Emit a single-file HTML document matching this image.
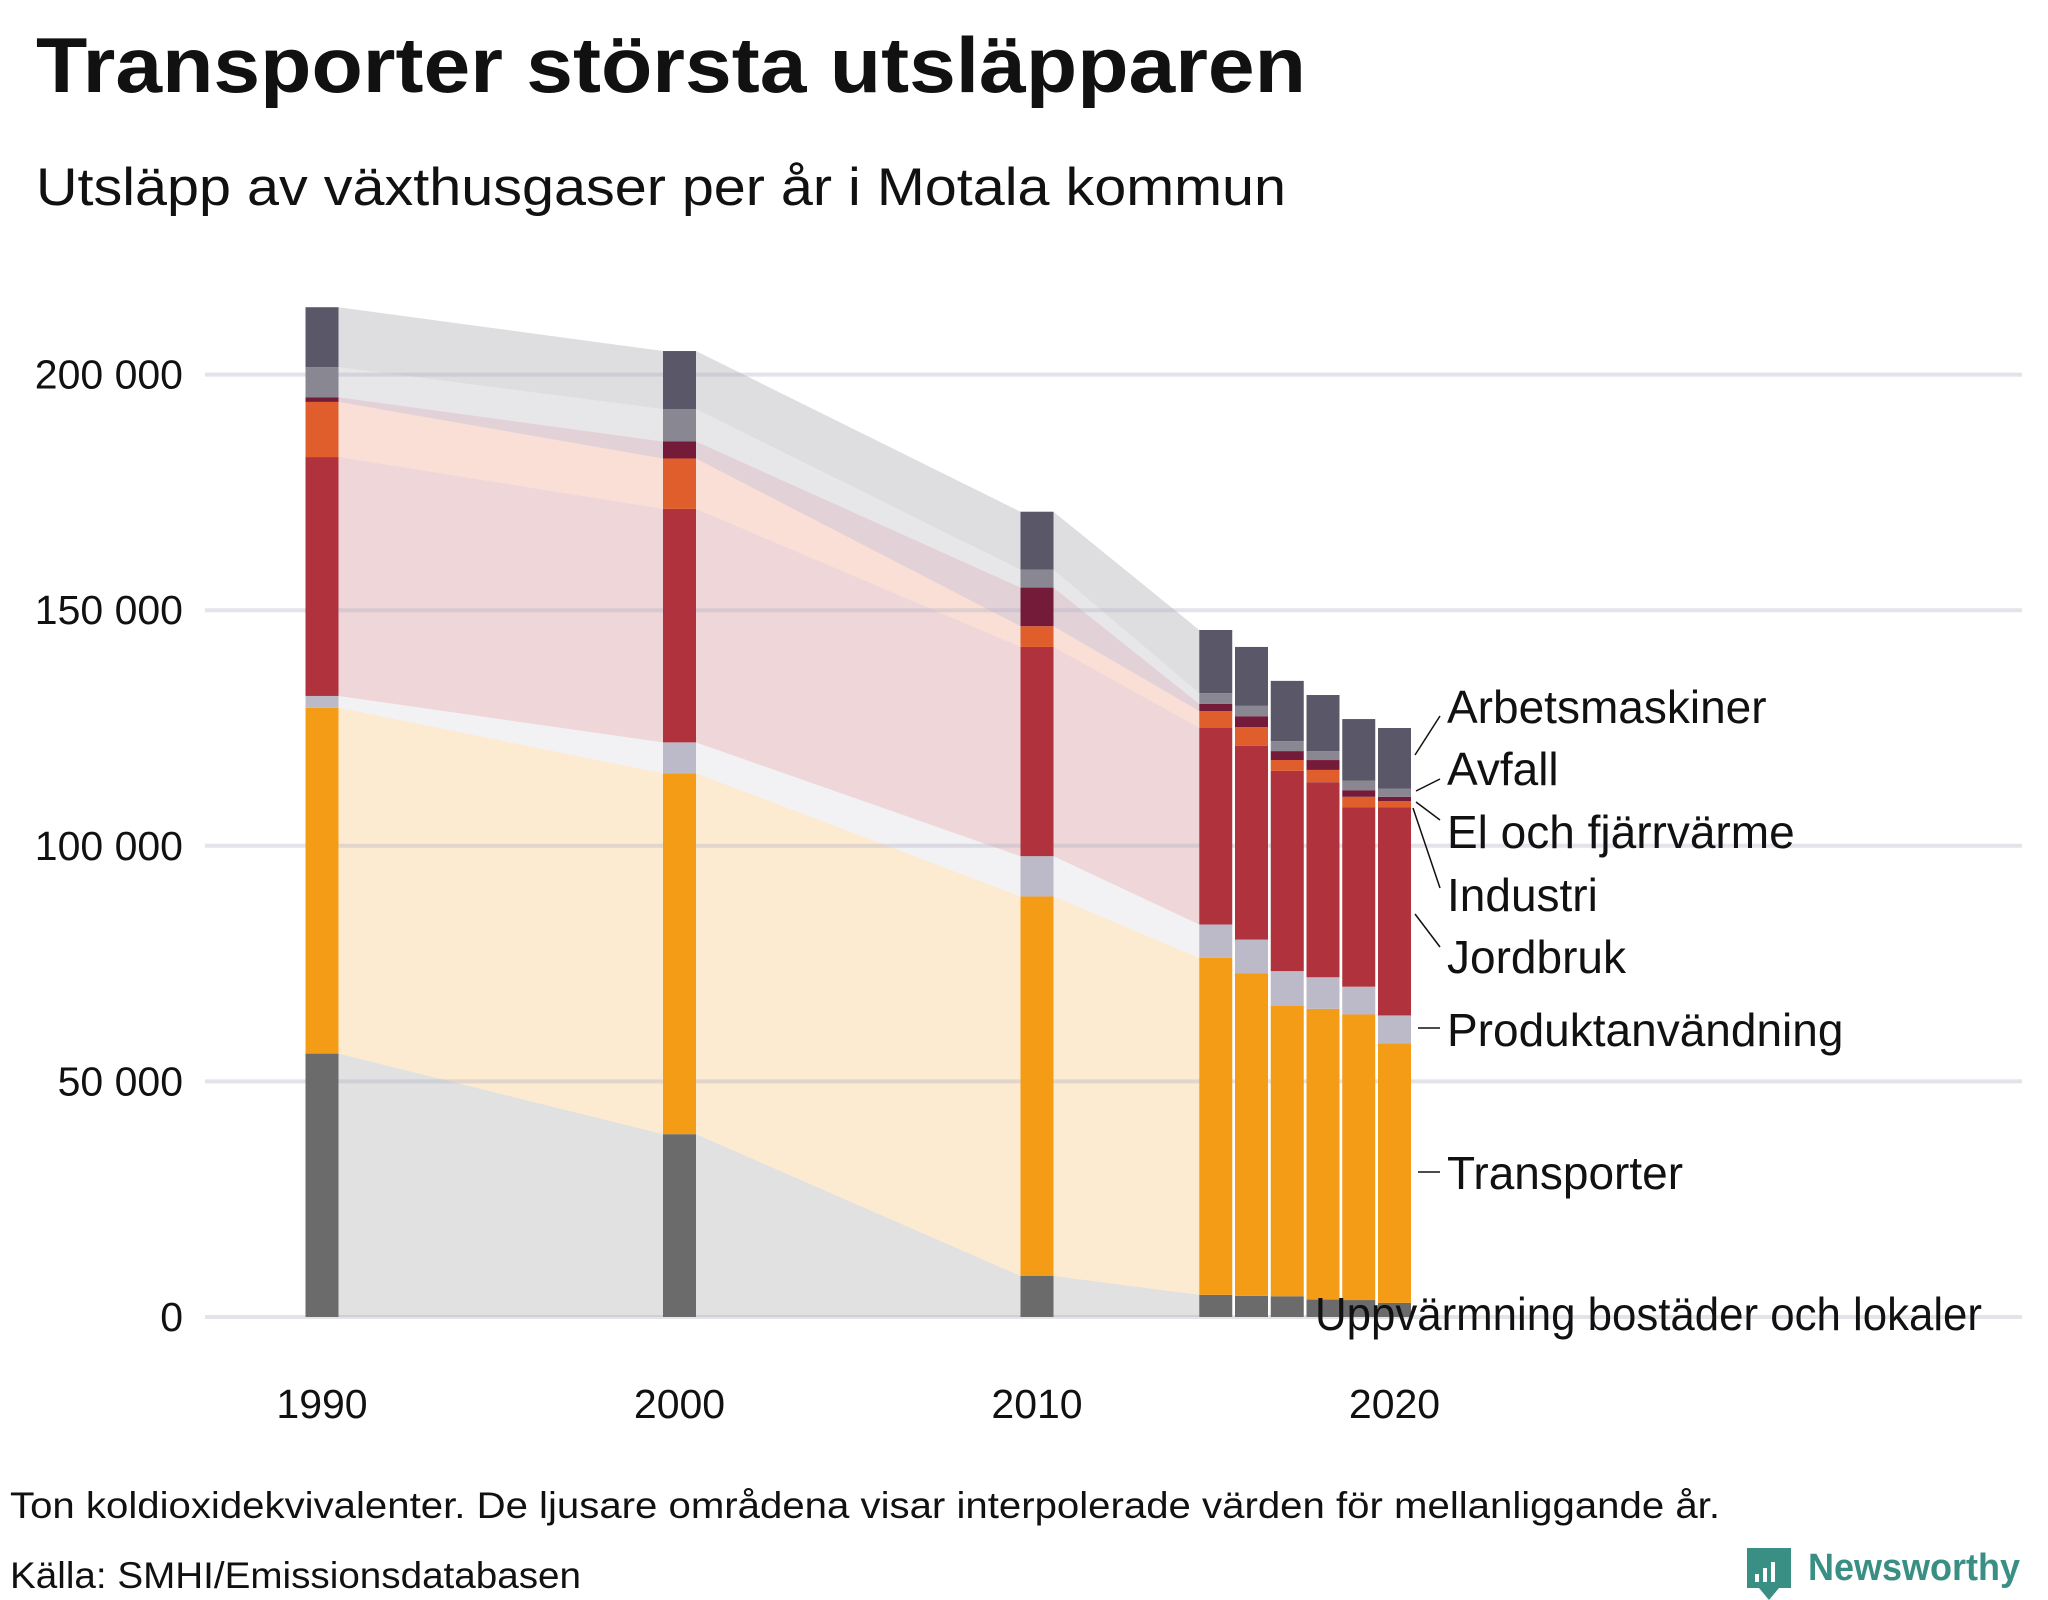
<!DOCTYPE html>
<html><head><meta charset="utf-8"><style>
html,body{margin:0;padding:0;background:#fff;}
svg{display:block;}
</style></head><body>
<svg id="chart" width="2048" height="1600" viewBox="0 0 2048 1600" xmlns="http://www.w3.org/2000/svg" font-family="Liberation Sans, sans-serif">
<text x="36" y="92" font-size="78" font-weight="bold" fill="#111" textLength="1270" lengthAdjust="spacingAndGlyphs">Transporter största utsläpparen</text>
<text x="36" y="205" font-size="53" fill="#111" textLength="1250" lengthAdjust="spacingAndGlyphs">Utsläpp av växthusgaser per år i Motala kommun</text>
<g id="areas"></g>
<g id="grid"></g>
<g id="bars"></g>
<g id="yaxis"></g>
<g id="xaxis"></g>
<g id="labels"></g>
<text x="10" y="1518" font-size="37" fill="#111" textLength="1710" lengthAdjust="spacingAndGlyphs">Ton koldioxidekvivalenter. De ljusare områdena visar interpolerade värden för mellanliggande år.</text>
<text x="10" y="1588" font-size="37" fill="#111" textLength="571" lengthAdjust="spacingAndGlyphs">Källa: SMHI/Emissionsdatabasen</text>
<g>
<path d="M1747 1548 h44 v40 h-12 l-10 12 l-10 -12 h-12 z" fill="#3a8f84"/>
<rect x="1755" y="1574" width="4" height="8" fill="#fff"/><rect x="1763" y="1568" width="4" height="14" fill="#fff"/><rect x="1771" y="1562" width="4" height="20" fill="#fff"/>
<text x="1808" y="1580" font-size="38" font-weight="bold" fill="#3a8f84" textLength="212" lengthAdjust="spacingAndGlyphs">Newsworthy</text>
</g>
</svg>
<script>
const years = [1990, 2000, 2010, 2015, 2016, 2017, 2018, 2019, 2020];
const seriesNames = ["Uppvärmning bostäder och lokaler","Transporter","Produktanvändning","Jordbruk","Industri","El och fjärrvärme","Avfall","Arbetsmaskiner"];
const uppvarmning = [55900, 38800, 8700, 4700, 4500, 4400, 3700, 3600, 3000];
const transporter = [73400, 76600, 80550, 71500, 68400, 61600, 61700, 60600, 55100];
const produkt = [2500, 6550, 8550, 7100, 7200, 7400, 6700, 5900, 5900];
const jordbruk = [50700, 49550, 44400, 41700, 41100, 42500, 41400, 38100, 44200];
const industri = [11700, 10700, 4400, 3600, 4000, 2300, 2600, 2200, 1300];
const elfjarr = [1000, 3600, 8200, 1500, 2300, 1900, 2100, 1400, 900];
const avfall = [6400, 6900, 3800, 2300, 2200, 2100, 1900, 2000, 1700];
const arbetsmaskiner = [12700, 12300, 12300, 13400, 12500, 12800, 11900, 13100, 12900];
const yTicks = [0, 50000, 100000, 150000, 200000];
const yTickLabels = ["0", "50 000", "100 000", "150 000", "200 000"];
const xTicks = [1990, 2000, 2010, 2020];
const areaYears = [1990, 2000, 2010, 2015];

const colors = ["#6b6b6b","#f59c17","#bcbac8","#b0323c","#e05d2c","#751b3a","#898792","#5a5868"];
const NS = "http://www.w3.org/2000/svg";
const x = yr => 322 + (yr - 1990) * 35.75;
const y = v => 1317 - v * 235.6 / 50000;
const BW = 33;
const series = [uppvarmning, transporter, produkt, jordbruk, industri, elfjarr, avfall, arbetsmaskiner];
const stacks = years.map((_, i) => { let c = 0; return series.map(s => { const b = c; c += s[i]; return [b, c]; }); });
function mk(tag, attrs, parent) { const e = document.createElementNS(NS, tag); for (const k in attrs) e.setAttribute(k, attrs[k]); parent.appendChild(e); return e; }

const areas = document.getElementById('areas');
for (let a = 0; a < areaYears.length - 1; a++) {
  const i = years.indexOf(areaYears[a]), j = years.indexOf(areaYears[a + 1]);
  const x1 = x(years[i]) + BW / 2, x2 = x(years[j]) - BW / 2;
  series.forEach((s, k) => {
    const [b1, t1] = stacks[i][k], [b2, t2] = stacks[j][k];
    const p = mk('polygon', {points: `${x1},${y(b1)} ${x1},${y(t1)} ${x2},${y(t2)} ${x2},${y(b2)}`, fill: colors[k], 'fill-opacity': 0.2}, areas);
    
    
  });
}
const grid = document.getElementById('grid');
const ya = document.getElementById('yaxis');
yTicks.forEach((t, i) => {
  const l = mk('line', {x1: 205, x2: 2022, y1: y(t), y2: y(t), stroke: 'rgba(175,175,195,0.35)', 'stroke-width': 4}, grid);
  
  
  const tx = mk('text', {x: 183, y: y(t) + 14, 'font-size': 41, 'text-anchor': 'end', fill: '#111'}, ya);
  tx.textContent = yTickLabels[i];
  
  
});
const bars = document.getElementById('bars');
years.forEach((yr, i) => {
  series.forEach((s, k) => {
    const [b, t] = stacks[i][k];
    const r = mk('rect', {x: x(yr) - BW / 2, y: y(t), width: BW, height: y(b) - y(t), fill: colors[k]}, bars);
    
    
  });
});
const xa = document.getElementById('xaxis');
xTicks.forEach(t => {
  const tx = mk('text', {x: x(t), y: 1418, 'font-size': 41, 'text-anchor': 'middle', fill: '#111'}, xa);
  tx.textContent = t;
  
  
});
const labels = document.getElementById('labels');
const lab = [
  ["Arbetsmaskiner",1447,723,[1415,755,1440,716]],
  ["Avfall",1447,785,[1416,791,1440,779]],
  ["El och fjärrvärme",1447,848,[1416,802,1440,820]],
  ["Industri",1447,911,[1413,808,1440,888]],
  ["Jordbruk",1447,973,[1415,914,1440,947]],
  ["Produktanvändning",1447,1046,[1418,1028,1440,1028]],
  ["Transporter",1447,1189,[1418,1172,1440,1172]],
  ["Uppvärmning bostäder och lokaler",1315,1330,null]
];
lab.forEach(([t, lx, ly, ln]) => {
  if (ln) {
    const l = mk('line', {x1: ln[0], y1: ln[1], x2: ln[2], y2: ln[3], stroke: '#111', 'stroke-width': 1.5}, labels);
    
    
  }
  const tx = mk('text', {x: lx, y: ly, 'font-size': 46, fill: '#111'}, labels);
  if (!ln) { tx.setAttribute('textLength', 667); tx.setAttribute('lengthAdjust', 'spacingAndGlyphs'); }
  tx.textContent = t;
  
  
});
</script>
</body></html>
